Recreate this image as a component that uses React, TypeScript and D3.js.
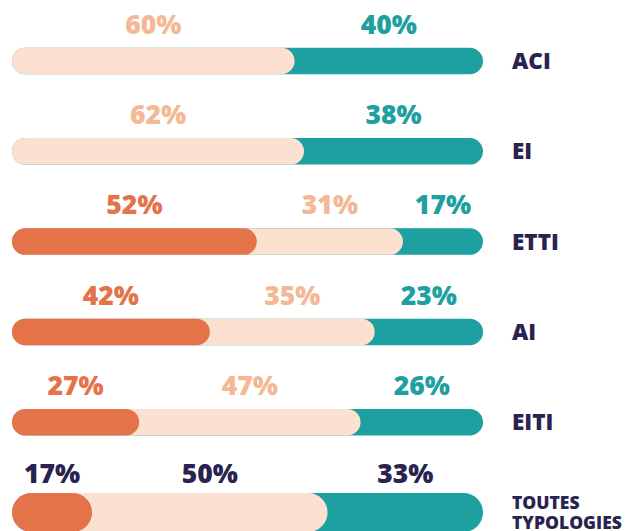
import React from "react";
import * as d3 from "d3";

const categories = ["ACI", "EI", "ETTI", "AI", "EITI", "TOUTES TYPOLOGIES"];
const orangeValues = [0, 0, 52, 42, 27, 17];
const peachValues = [60, 62, 31, 35, 47, 50];
const tealValues = [40, 38, 17, 23, 26, 33];

const W = 634;
const H = 531;

const COLORS = {
  orange: "#E4734A",
  peachBar: "#FCE1D1",
  peachText: "#F4B896",
  teal: "#1E9FA0",
  navy: "#29234F",
};

export default function App() {
  const x = d3.scaleLinear().domain([0, 100]).range([12, 483]);
  const y = d3.scalePoint<string>().domain(categories).range([61, 512.5]);
  const font = "'Open Sans', 'DejaVu Sans', sans-serif";

  return (
    <svg
      width={W}
      height={H}
      style={{ position: "absolute", left: 0, top: 0, display: "block" }}
    >
      {categories.map((cat, i) => {
        const isTotal = i === categories.length - 1;
        const h = isTotal ? 39 : 26.5;
        const cy = y(cat)!;
        const top = cy - h / 2;
        const r = h / 2;
        const o = orangeValues[i];
        const p = peachValues[i];
        const t = tealValues[i];
        const segs = [
          { v: o, start: 0, end: o, text: COLORS.orange },
          { v: p, start: o, end: o + p, text: COLORS.peachText },
          { v: t, start: o + p, end: 100, text: COLORS.teal },
        ];
        const baseline = top - (isTotal ? 10 : 14);
        const lines = cat.split(" ");
        return (
          <g key={cat}>
            <rect x={x(0)} y={top} width={x(100) - x(0)} height={h} rx={r} ry={r} fill={COLORS.teal} />
            {o + p > 0 && (
              <rect x={x(0)} y={top} width={x(o + p) - x(0)} height={h} rx={r} ry={r} fill={COLORS.peachBar} />
            )}
            {o > 0 && (
              <rect x={x(0)} y={top} width={x(o) - x(0)} height={h} rx={r} ry={r} fill={COLORS.orange} />
            )}
            {segs
              .filter((s) => s.v > 0)
              .map((s, j) => (
                <text
                  key={j}
                  x={(x(s.start) + x(s.end)) / 2}
                  y={baseline}
                  textAnchor="middle"
                  fontFamily={font}
                  fontWeight={800}
                  fontSize={26.5}
                  fill={isTotal ? COLORS.navy : s.text}
                >
                  {s.v}%
                </text>
              ))}
            {isTotal ? (
              <text fontFamily={font} fontWeight={800} fontSize={17.5} fill={COLORS.navy}>
                {lines.map((l, k) => (
                  <tspan key={k} x={512} y={509 + k * 19.5}>
                    {l}
                  </tspan>
                ))}
              </text>
            ) : (
              <text
                x={512}
                y={cy + 8}
                fontFamily={font}
                fontWeight={800}
                fontSize={22.5}
                fill={COLORS.navy}
              >
                {cat}
              </text>
            )}
          </g>
        );
      })}
    </svg>
  );
}
